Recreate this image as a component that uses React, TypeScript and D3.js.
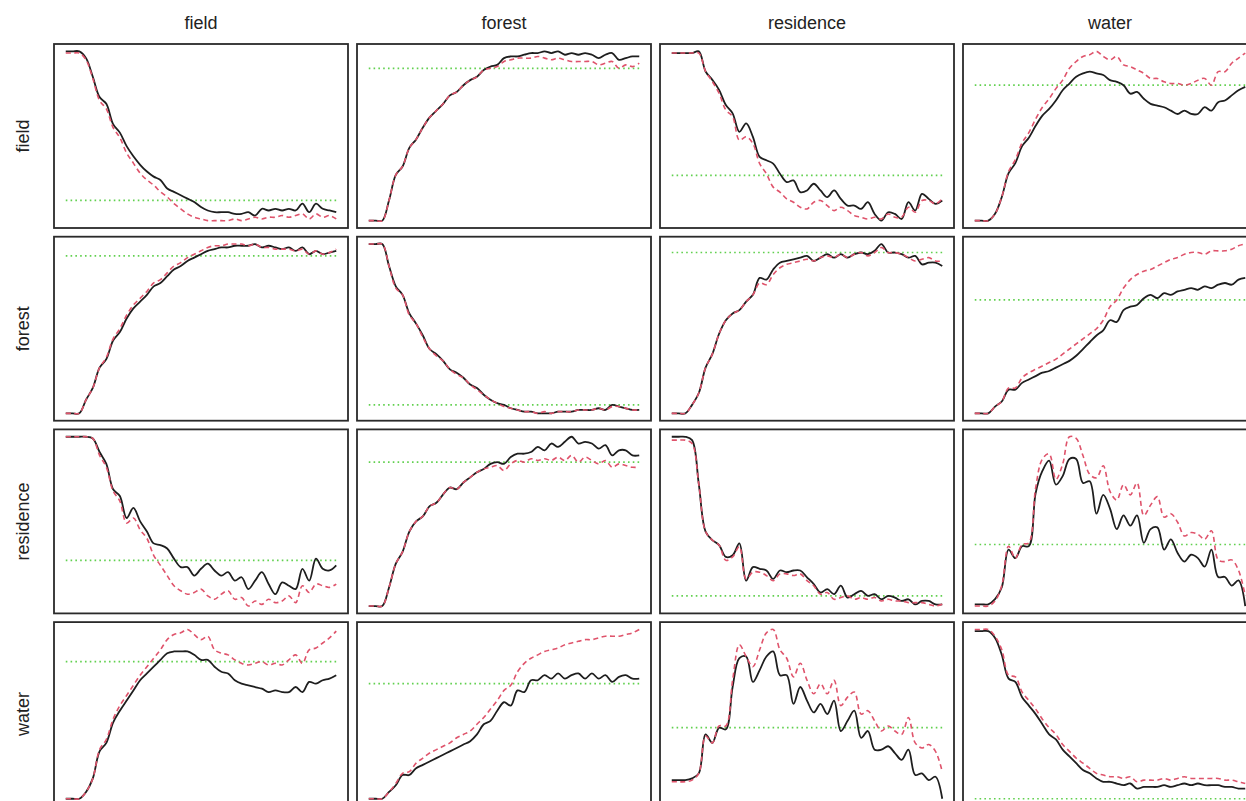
import React from 'react';
import * as d3 from 'd3';

// land classes (rows and columns of the grid)
const classes = ['field', 'forest', 'residence', 'water'];

// lag index shared by every series
const lags = [0, 1, 2, 3, 4, 5, 6, 7, 8, 9, 10, 11, 12, 13, 14, 15, 16, 17, 18, 19, 20,
  21, 22, 23, 24, 25, 26, 27, 28, 29, 30, 31, 32, 33, 34, 35, 36, 37, 38, 39, 40];

// observed (solid black) and simulated (dashed pink) curves, row class -> column class
const obsFieldField = [100,100,100,96,85,73,69,57,52,44,38,33,29,26,24,19,17,15,13,11,8,6,5,5,5,4,4,5,3,7,6,7,6,7,6,10,5,10,7,6,5];
const simFieldField = [99,99,99,95,84,71,66,55,49,40,34,28,24,21,17,14,10,7,4,2,1,0,0,0,0,1,0,1,2,1,2,2,3,2,3,4,1,4,2,3,1];
const obsFieldForest = [0,0,0,12,27,32,43,48,55,61,65,69,74,76,80,83,85,89,91,92,96,97,97,98,99,99,100,99,100,98,99,98,99,98,96,98,99,95,96,97,97];
const simFieldForest = [0,0,0,12,27,32,43,48,55,61,65,69,74,76,80,83,85,89,90,91,94,95,96,96,96,97,96,95,96,95,94,94,94,94,92,93,94,90,92,91,93];
const obsFieldResidence = [100,100,100,100,101,89,84,78,69,64,53,58,50,38,36,34,28,23,24,17,18,22,18,14,18,13,9,9,7,11,4,0,5,4,1,11,6,16,13,10,12];
const simFieldResidence = [100,100,100,100,100,89,83,76,66,62,48,50,46,34,28,20,17,13,11,8,7,11,12,9,6,8,6,3,2,1,2,1,4,2,2,8,5,12,12,10,13];
const obsFieldWater = [0,0,0,4,14,28,34,44,49,56,62,66,71,77,81,85,87,88,87,86,83,82,80,75,76,72,69,68,67,65,63,65,63,63,67,65,70,71,74,77,79];
const simFieldWater = [0,0,0,4,14,29,36,46,52,60,67,72,78,83,90,94,97,98,100,97,95,97,92,91,89,87,84,84,82,81,81,80,81,83,84,80,88,88,93,96,99];

const obsForestField = [0,0,0,8,15,27,32,43,48,56,62,66,70,75,77,81,85,87,90,92,94,96,97,98,98,99,99,99,100,98,99,98,97,98,96,98,94,96,94,95,96];
const simForestField = [0,0,0,8,15,27,33,44,50,58,64,68,72,77,79,83,87,89,92,94,96,98,99,99,100,100,100,99,100,98,98,97,97,97,96,97,94,96,94,95,97];
const obsForestForest = [100,100,100,87,75,70,59,53,46,38,35,31,26,24,21,17,15,11,8,6,5,3,2,1,1,0,0,0,1,1,1,2,2,2,3,2,5,4,3,2,2];
const simForestForest = [100,100,100,87,74,70,58,53,45,38,34,31,26,23,21,17,14,11,8,6,4,3,2,1,1,0,1,0,1,1,1,2,2,2,3,2,4,4,3,2,2];
const obsForestResidence = [0,0,0,5,12,27,35,47,55,59,61,66,70,80,79,85,89,90,91,92,93,90,92,94,92,94,92,94,95,94,96,100,95,95,94,92,93,88,89,89,87];
const simForestResidence = [0,0,0,5,12,27,35,47,55,59,61,66,70,77,76,82,86,88,89,90,91,90,92,93,92,94,92,94,95,93,95,98,95,95,94,92,90,91,92,90,90];
const obsForestWater = [0,0,0,4,7,14,14,18,20,22,24,25,27,29,31,34,38,42,46,49,55,54,61,63,64,68,70,68,71,70,72,73,74,73,75,74,76,77,76,79,80];
const simForestWater = [0,0,0,4,7,15,15,21,24,26,28,30,32,35,38,41,44,47,50,55,63,67,74,79,82,84,85,87,89,91,92,94,95,95,94,96,96,96,97,99,100];

const obsResidenceField = [100,100,100,100,99,91,84,69,65,52,58,50,44,37,36,34,28,23,23,18,22,25,21,18,20,15,17,10,15,20,13,7,14,12,10,22,15,28,22,21,24];
const simResidenceField = [100,100,100,100,99,89,82,68,62,49,52,45,40,30,24,18,12,9,7,8,10,6,4,7,9,4,5,0,3,1,4,2,3,6,2,12,8,13,12,11,13];
const obsResidenceForest = [0,0,0,11,25,32,44,50,53,59,61,66,70,69,73,76,79,81,84,85,84,88,90,90,91,94,92,96,94,97,100,96,97,96,93,95,89,92,92,89,89];
const simResidenceForest = [0,0,0,11,25,32,44,50,53,59,61,66,70,69,73,76,79,81,82,83,80,84,86,85,87,86,87,86,88,86,89,85,88,86,84,86,82,84,83,82,82];
const obsResidenceResidence = [100,100,100,98,72,44,39,36,29,30,37,15,23,22,21,16,21,20,21,21,17,13,8,10,7,12,5,7,9,6,7,4,6,5,3,4,1,3,3,1,1];
const simResidenceResidence = [98,98,98,96,72,44,39,36,27,29,35,16,20,20,18,15,19,19,18,19,15,12,7,8,4,5,6,4,5,4,5,3,4,3,3,2,2,2,1,0,1];
const obsResidenceWater = [1,1,1,4,11,33,28,35,35,66,79,85,71,76,86,86,72,73,54,65,57,45,53,47,53,37,45,46,33,39,31,26,30,28,23,33,17,17,12,15,0];
const simResidenceWater = [0,0,0,3,12,35,28,36,37,69,86,89,74,83,99,98,88,77,75,82,67,62,71,65,72,53,59,64,52,54,49,41,43,42,39,44,27,26,27,21,6];

const obsWaterField = [0,0,0,4,12,28,33,45,52,58,64,70,74,78,82,86,87,87,87,85,82,82,78,75,74,70,68,67,66,65,63,64,63,63,66,63,69,68,70,71,73];
const simWaterField = [0,0,0,4,12,29,35,47,55,61,67,73,78,83,88,94,97,98,100,97,94,96,88,86,85,82,80,79,80,81,79,80,79,82,85,80,88,89,92,95,99];
const obsWaterForest = [0,0,0,4,8,14,14,18,20,22,24,26,28,30,32,34,38,44,46,52,57,55,64,63,70,70,73,71,74,71,73,74,71,74,71,73,69,72,73,71,71];
const simWaterForest = [0,0,0,4,9,15,16,21,24,27,29,31,33,36,38,40,44,48,53,58,64,67,75,80,83,85,87,88,89,91,92,93,94,94,95,96,96,96,97,98,100];
const obsWaterResidence = [11,11,11,12,15,38,33,42,41,66,83,84,69,76,84,87,73,73,56,66,58,51,56,50,58,40,46,52,36,40,29,29,31,27,23,29,14,15,11,13,0];
const simWaterResidence = [10,10,10,11,15,37,33,43,43,70,91,84,78,88,98,100,88,83,72,80,70,62,68,62,70,55,60,63,50,52,46,40,43,40,38,48,33,30,32,28,16];
const obsWaterWater = [99,99,99,95,85,71,69,60,55,50,44,38,35,29,25,21,17,15,12,10,10,9,8,9,6,7,7,7,8,7,8,9,8,9,8,8,8,7,7,6,6];
const simWaterWater = [100,100,100,96,88,73,72,63,58,53,47,42,38,32,28,24,21,18,15,14,13,13,12,13,10,11,11,11,12,11,12,13,12,12,12,12,12,11,11,10,9];

// expected level (green dotted), row by row
const refField = [12, 90, 27, 80];
const refForest = [93, 5, 95, 67];
const refResidence = [27, 85, 6, 36];
const refWater = [81, 68, 42, 0];

const obsGrid = [
  [obsFieldField, obsFieldForest, obsFieldResidence, obsFieldWater],
  [obsForestField, obsForestForest, obsForestResidence, obsForestWater],
  [obsResidenceField, obsResidenceForest, obsResidenceResidence, obsResidenceWater],
  [obsWaterField, obsWaterForest, obsWaterResidence, obsWaterWater],
];
const simGrid = [
  [simFieldField, simFieldForest, simFieldResidence, simFieldWater],
  [simForestField, simForestForest, simForestResidence, simForestWater],
  [simResidenceField, simResidenceForest, simResidenceResidence, simResidenceWater],
  [simWaterField, simWaterForest, simWaterResidence, simWaterWater],
];
const refGrid = [refField, refForest, refResidence, refWater];

const W = 1246;
const H = 801;
const left0 = 54;
const top0 = 44;
const panelW = 294;
const panelH = 184;
const stepX = 303;
const stepY = 192.7;

const font = '"Liberation Sans", Arial, Helvetica, sans-serif';

function Panel({ row, col }: { row: number; col: number }) {
  const obs = obsGrid[row][col];
  const sim = simGrid[row][col];
  const ref = refGrid[row][col];
  const x0 = left0 + col * stepX;
  const y0 = top0 + row * stepY;

  // R style: 4% padding on every side of the data range
  const padX = panelW * 0.04;
  const padY = panelH * 0.04;
  const x = d3.scaleLinear()
    .domain(d3.extent(lags) as [number, number])
    .range([x0 + padX, x0 + panelW - padX]);
  const yExt = d3.extent([...obs, ...sim, ref]) as [number, number];
  const y = d3.scaleLinear()
    .domain(yExt)
    .range([y0 + panelH - padY, y0 + padY]);

  const line = d3.line<number>()
    .x((_, i) => x(lags[i]))
    .y(d => y(d))
    .curve(d3.curveCatmullRom.alpha(0.5));

  return (
    <g>
      <line x1={x.range()[0]} x2={x.range()[1]} y1={y(ref)} y2={y(ref)}
        stroke="#61D04F" strokeWidth={1.7} strokeDasharray="1.6,3.2" />
      <path d={line(obs) || ''} fill="none" stroke="#1e1e1e" strokeWidth={1.8} strokeLinejoin="round" />
      <path d={line(sim) || ''} fill="none" stroke="#DF536B" strokeWidth={1.6} strokeDasharray="5,3.5" />
      <rect x={x0} y={y0} width={panelW} height={panelH} fill="none" stroke="#2a2a2a" strokeWidth={1.8} />
    </g>
  );
}

export default function App() {
  return (
    <div style={{ position: 'fixed', left: 0, top: 0, width: W, height: H, background: '#fff' }}>
      <svg width={W} height={H} style={{ display: 'block' }}>
        <rect width={W} height={H} fill="#fff" />
        {classes.map((c, i) => (
          <text key={'col' + c} x={left0 + i * stepX + panelW / 2} y={29}
            textAnchor="middle" fontFamily={font} fontSize={18} fill="#222">{c}</text>
        ))}
        {classes.map((c, i) => (
          <text key={'row' + c} transform={`translate(29,${top0 + i * stepY + panelH / 2}) rotate(-90)`}
            textAnchor="middle" fontFamily={font} fontSize={18} fill="#222">{c}</text>
        ))}
        {classes.map((_, r) => classes.map((__, c) => (
          <Panel key={`${r}-${c}`} row={r} col={c} />
        )))}
      </svg>
    </div>
  );
}
